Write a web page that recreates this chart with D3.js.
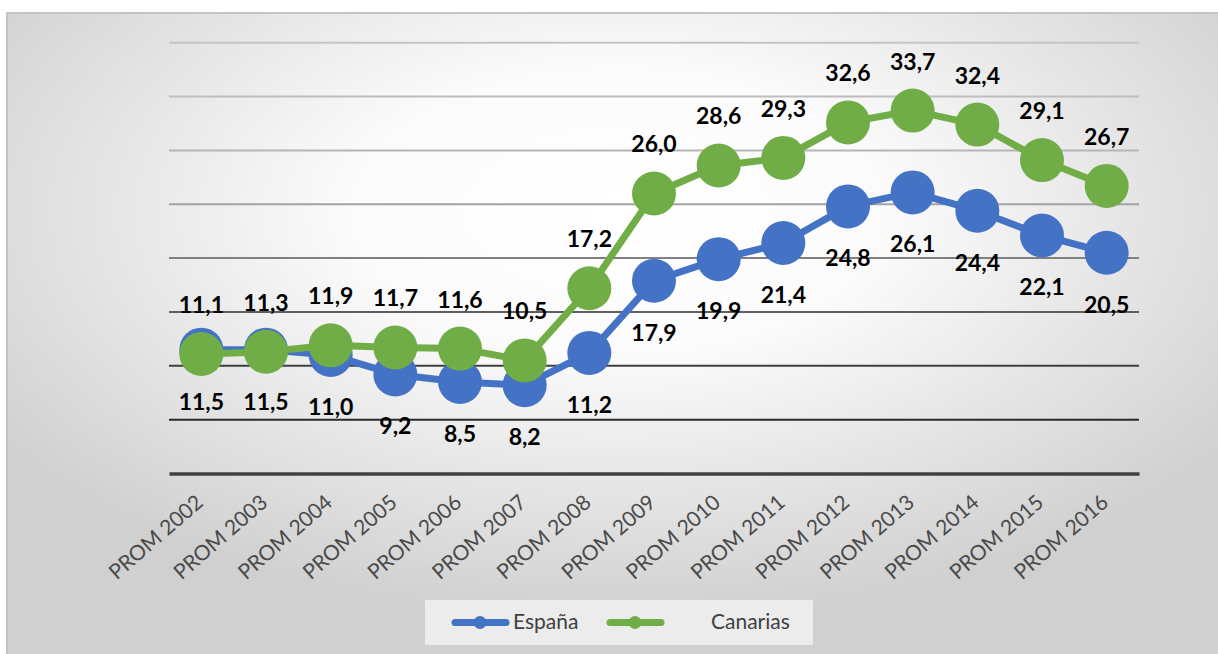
<!DOCTYPE html>
<html>
<head>
<meta charset="utf-8">
<script src="https://cdn.jsdelivr.net/npm/d3@7"></script>
<style>
  html, body { margin: 0; padding: 0; background: #ffffff; }
  svg { display: block; }
</style>
</head>
<body>
<svg id="chart" width="1218" height="654"></svg>
<script>
// ---- data ----
const categories = ["PROM 2002","PROM 2003","PROM 2004","PROM 2005","PROM 2006","PROM 2007","PROM 2008","PROM 2009","PROM 2010","PROM 2011","PROM 2012","PROM 2013","PROM 2014","PROM 2015","PROM 2016"];
const espana   = [11.5, 11.5, 11.0, 9.2, 8.5, 8.2, 11.2, 17.9, 19.9, 21.4, 24.8, 26.1, 24.4, 22.1, 20.5];
const canarias = [11.1, 11.3, 11.9, 11.7, 11.6, 10.5, 17.2, 26.0, 28.6, 29.3, 32.6, 33.7, 32.4, 29.1, 26.7];
const seriesNames = ["España", "Canarias"];
const gridValues = [5, 10, 15, 20, 25, 30, 35, 40];

const colors = { "España": "#4472C4", "Canarias": "#70AD47" };
const gridColors = ["#2a2a2a", "#3f3f3f", "#5e5e5e", "#808080", "#a3a3a3", "#b6b6b6", "#bdbdbd", "#c4c4c4"];

const svg = d3.select("#chart");
const fmt = v => v.toFixed(1).replace(".", ",");

// ---- background frame ----
const defs = svg.append("defs");
const rg = defs.append("radialGradient").attr("id", "bg")
  .attr("cx", "50%").attr("cy", "30%").attr("r", "62%")
  .attr("gradientUnits", "objectBoundingBox");
rg.append("stop").attr("offset", "0%").attr("stop-color", "#ffffff");
rg.append("stop").attr("offset", "35%").attr("stop-color", "#fbfbfb");
rg.append("stop").attr("offset", "100%").attr("stop-color", "#d0d0d0");

svg.append("rect").attr("x", 7).attr("y", 13).attr("width", 1220).attr("height", 660)
  .attr("fill", "url(#bg)").attr("stroke", "#c4c4c4").attr("stroke-width", 2);

// ---- scales ----
const x = d3.scaleBand().domain(categories).range([169, 1139]);
const y = d3.scaleLinear().domain([0, 40]).range([473.5, 42.7]);
const cx = c => x(c) + x.bandwidth() / 2;

// gridlines
svg.append("g").selectAll("line").data(gridValues).join("line")
  .attr("x1", 169).attr("x2", 1139)
  .attr("y1", d => y(d)).attr("y2", d => y(d))
  .attr("stroke", (d, i) => gridColors[i]).attr("stroke-width", 2);

// x axis
const xAxis = svg.append("g").attr("transform", `translate(0,${y(0)})`)
  .call(d3.axisBottom(x).tickSize(0).tickFormat(""));
xAxis.select(".domain").attr("stroke", "#404040").attr("stroke-width", 3.5);

svg.append("g").selectAll("text").data(categories).join("text")
  .attr("transform", d => `translate(${cx(d) + 3},${y(0) + 31}) rotate(-41)`)
  .attr("text-anchor", "end")
  .attr("font-family", "Lato, 'Open Sans', sans-serif")
  .attr("font-size", 21)
  .attr("fill", "#4a4a4a")
  .text(d => d);

// ---- series ----
const seriesData = [
  { name: "España", values: espana },
  { name: "Canarias", values: canarias }
];

const line = d3.line().x((d, i) => cx(categories[i])).y(d => y(d));

const sg = svg.append("g").selectAll("g").data(seriesData).join("g");
sg.append("path")
  .attr("d", d => line(d.values))
  .attr("fill", "none")
  .attr("stroke", d => colors[d.name])
  .attr("stroke-width", 7)
  .attr("stroke-linejoin", "round");
sg.each(function(s) {
  d3.select(this).selectAll("circle").data(s.values).join("circle")
    .attr("cx", (d, i) => cx(categories[i]))
    .attr("cy", d => y(d))
    .attr("r", 22)
    .attr("fill", colors[s.name]);
});

// ---- data labels ----
const lg = svg.append("g")
  .attr("font-family", "Lato, 'Open Sans', sans-serif")
  .attr("font-weight", "bold")
  .attr("font-size", 23)
  .attr("fill", "#000000")
  .attr("text-anchor", "middle");
lg.selectAll("text.es").data(espana).join("text").attr("class", "es")
  .attr("x", (d, i) => cx(categories[i]))
  .attr("y", d => y(d) + 60)
  .text(d => fmt(d));
lg.selectAll("text.ca").data(canarias).join("text").attr("class", "ca")
  .attr("x", (d, i) => cx(categories[i]))
  .attr("y", d => y(d) - 41)
  .text(d => fmt(d));

// ---- legend ----
const leg = svg.append("g");
leg.append("rect").attr("x", 425).attr("y", 600).attr("width", 388).attr("height", 45)
  .attr("fill", "#ececec");
const legItems = [
  { name: "España", lx: 452, tx: 513 },
  { name: "Canarias", lx: 607, tx: 711 }
];
legItems.forEach(it => {
  leg.append("line").attr("x1", it.lx + 3).attr("x2", it.lx + 54)
    .attr("y1", 622.5).attr("y2", 622.5)
    .attr("stroke", colors[it.name]).attr("stroke-width", 7).attr("stroke-linecap", "round");
  leg.append("circle").attr("cx", it.lx + 28).attr("cy", 622.5).attr("r", 6.5)
    .attr("fill", colors[it.name]);
  leg.append("text").attr("x", it.tx).attr("y", 629)
    .attr("font-family", "Lato, 'Open Sans', sans-serif")
    .attr("font-size", 21).attr("fill", "#404040")
    .text(it.name);
});
</script>
</body>
</html>
